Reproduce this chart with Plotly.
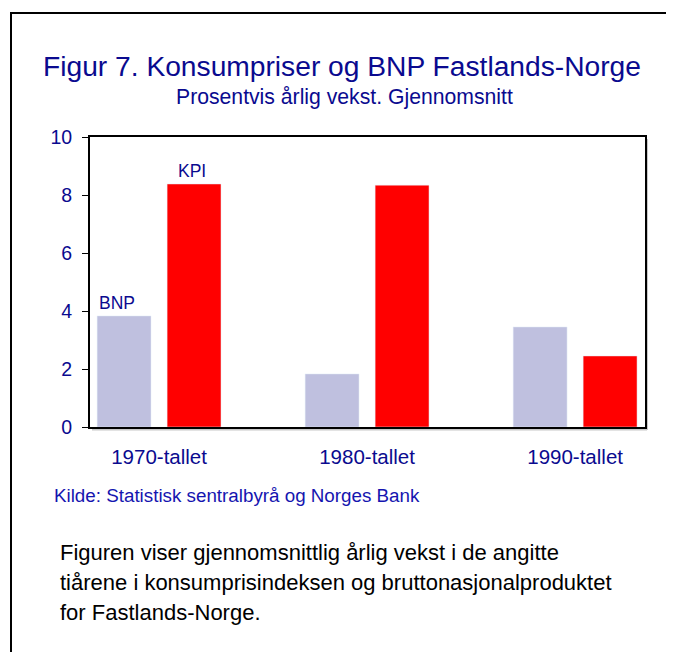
import plotly.graph_objects as go

categories = ["1970-tallet", "1980-tallet", "1990-tallet"]
bnp = [3.83, 1.83, 3.45]
kpi = [8.38, 8.34, 2.45]
series_labels = ["BNP", "KPI"]
yticks = [0, 2, 4, 6, 8, 10]

# page body has an 8px margin, so layout is shifted by that amount
OFF = 8
W, H = 674, 652
L, T = 90 - OFF, 137 - OFF
pw, ph = 555, 290
R, B = W - L - pw, H - T - ph

def px(x):
    return (x - 90) / pw

def py(y):
    return (427 - y) / ph

FONT = "Liberation Sans, Arial, sans-serif"
NAVY = "#0a0a8f"
BLUE = "#1515b0"

xs = list(range(len(categories)))

fig = go.Figure()
fig.add_trace(go.Bar(x=xs, y=bnp, name=series_labels[0], marker_color="#bfc0df"))
fig.add_trace(go.Bar(x=xs, y=kpi, name=series_labels[1], marker_color="#ff0000"))

fig.update_layout(
    width=W, height=H,
    margin=dict(l=L, r=R, t=T, b=B, pad=0),
    paper_bgcolor="white", plot_bgcolor="white",
    barmode="group", bargap=0.327, bargroupgap=0.23,
    showlegend=False,
    font=dict(family=FONT, color=NAVY),
)
fig.update_xaxes(
    range=[-0.332, 2.336], tickvals=xs, ticktext=categories,
    showline=True, mirror=True, linecolor="black", linewidth=1.8,
    ticks="", showgrid=False, zeroline=False, ticklabelstandoff=10,
    tickfont=dict(family=FONT, size=20.5, color=NAVY),
)
fig.update_yaxes(
    range=[0, 10], tickvals=yticks,
    showline=True, mirror=True, linecolor="black", linewidth=1.8,
    ticks="outside", ticklen=6, tickcolor="black", tickwidth=1.2,
    showgrid=False, zeroline=False, ticklabelstandoff=6,
    tickfont=dict(family=FONT, size=19.5, color=NAVY),
)

shapes = [
    dict(type="rect", xref="paper", yref="paper",
         x0=px(11), x1=px(720), y0=py(720), y1=py(13),
         line=dict(color="black", width=2), fillcolor="rgba(0,0,0,0)", layer="below"),
    dict(type="line", xref="paper", yref="paper",
         x0=px(647), x1=px(647), y0=py(430), y1=py(139),
         line=dict(color="#c8c8c8", width=2), layer="below"),
    dict(type="line", xref="paper", yref="paper",
         x0=px(92), x1=px(647), y0=py(429.5), y1=py(429.5),
         line=dict(color="#c8c8c8", width=2), layer="below"),
]
fig.update_layout(shapes=shapes)

annotations = [
    dict(text="Figur 7. Konsumpriser og BNP Fastlands-Norge", x=px(342), y=py(66),
         font=dict(family=FONT, size=28.2, color=NAVY)),
    dict(text="Prosentvis årlig vekst. Gjennomsnitt", x=px(344), y=py(97),
         font=dict(family=FONT, size=21.2, color=NAVY)),
    dict(text="Kilde: Statistisk sentralbyrå og Norges Bank", x=px(52), y=py(495),
         xanchor="left", font=dict(family=FONT, size=18.8, color=BLUE)),
    dict(text="Figuren viser gjennomsnittlig årlig vekst i de angitte", x=px(58), y=py(552),
         xanchor="left", font=dict(family=FONT, size=22, color="black")),
    dict(text="tiårene i konsumprisindeksen og bruttonasjonalproduktet", x=px(58), y=py(582),
         xanchor="left", font=dict(family=FONT, size=22, color="black")),
    dict(text="for Fastlands-Norge.", x=px(58), y=py(612),
         xanchor="left", font=dict(family=FONT, size=22, color="black")),
]
for a in annotations:
    a.update(xref="paper", yref="paper", showarrow=False, yanchor="middle")
    a.setdefault("xanchor", "center")

# series labels above the first group's bars
annotations.append(dict(text=series_labels[0], xref="x", yref="y", x=xs[0], y=bnp[0],
                        xanchor="left", yanchor="bottom", xshift=-62, yshift=1,
                        showarrow=False, font=dict(family=FONT, size=17.5, color=NAVY)))
annotations.append(dict(text=series_labels[1], xref="x", yref="y", x=xs[0], y=kpi[0],
                        xanchor="left", yanchor="bottom", xshift=17, yshift=1,
                        showarrow=False, font=dict(family=FONT, size=17.5, color=NAVY)))
fig.update_layout(annotations=annotations)

fig.write_html("out.html")
